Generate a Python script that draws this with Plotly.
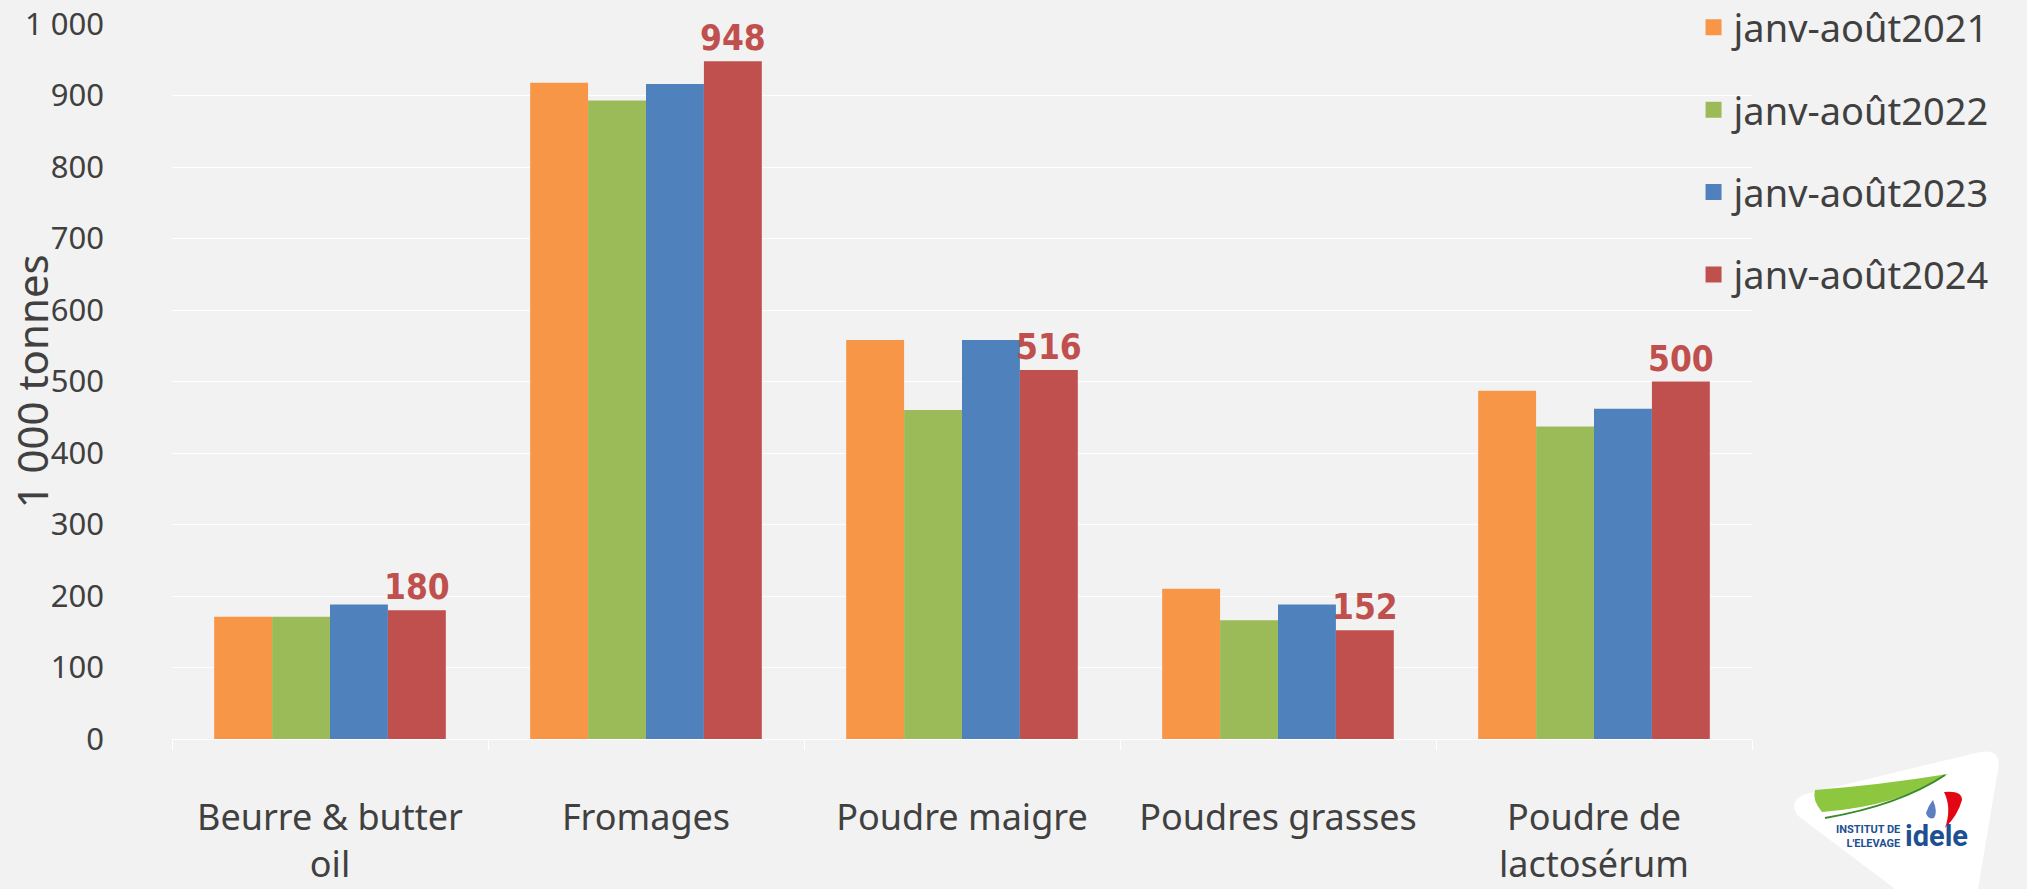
import plotly.graph_objects as go

categories = ["Beurre & butter<br>oil", "Fromages", "Poudre maigre", "Poudres grasses", "Poudre de<br>lactosérum"]
series_names = ["janv-août2021", "janv-août2022", "janv-août2023", "janv-août2024"]
v2021 = [171, 918, 558, 210, 487]
v2022 = [171, 893, 460, 166, 437]
v2023 = [188, 916, 558, 188, 462]
v2024 = [180, 948, 516, 152, 500]
colors = ["#F79646", "#9BBB59", "#4F81BD", "#C0504D"]
y_ticks = [0, 100, 200, 300, 400, 500, 600, 700, 800, 900, 1000]

W, H = 2027, 889
L, R, T, B = 172, 275, 24, 150
FONT = "Noto Sans, Open Sans, DejaVu Sans, sans-serif"
NARROW = "Liberation Sans Narrow, DejaVu Sans Condensed, Roboto Condensed, Roboto, sans-serif"
TXT = "#404040"

fig = go.Figure()
all_vals = [v2021, v2022, v2023, v2024]
for i, (name, vals) in enumerate(zip(series_names, all_vals)):
    is_last = i == len(series_names) - 1
    fig.add_trace(go.Bar(
        x=categories, y=vals, name=name, showlegend=False,
        marker=dict(color=colors[i], line=dict(width=0)),
        text=[str(v) for v in vals] if is_last else None,
        textposition="outside" if is_last else None,
        constraintext="none",
        textfont=dict(family=NARROW, size=35, color="#C0504D", weight="bold"),
        cliponaxis=False,
    ))
# legend entries with larger square swatches
for i, name in enumerate(series_names):
    fig.add_trace(go.Scatter(
        x=[None], y=[None], mode="markers", name=name, legendgroup=name,
        marker=dict(symbol="square", size=20, color=colors[i]),
    ))

pw = W - L - R
ph = H - T - B
def px(x):
    return (x - L) / pw
def py(y):
    return (H - B - y) / ph

# Logo (approximation)
logo_shapes = [
    dict(type="path", xref="paper", yref="paper",
         path=f"M {px(1797)},{py(815)} Q {px(1788)},{py(800)} {px(1806)},{py(794)} "
              f"L {px(1980)},{py(752)} Q {px(2002)},{py(748)} {px(1998)},{py(770)} "
              f"L {px(1978)},{py(889)} L {px(1895)},{py(889)} Z",
         fillcolor="white", line=dict(width=0), layer="above"),
    dict(type="path", xref="paper", yref="paper",
         path=f"M {px(1815)},{py(790)} Q {px(1880)},{py(785)} {px(1948)},{py(774)} "
              f"Q {px(1900)},{py(806)} {px(1822)},{py(812)} Q {px(1812)},{py(800)} {px(1815)},{py(790)} Z",
         fillcolor="#8DC63F", line=dict(width=0), layer="above"),
    dict(type="path", xref="paper", yref="paper",
         path=f"M {px(1825)},{py(818)} Q {px(1900)},{py(805)} {px(1945)},{py(775)}",
         line=dict(color="#3A8A2E", width=2), layer="above"),
    dict(type="path", xref="paper", yref="paper",
         path=f"M {px(1944)},{py(792)} Q {px(1962)},{py(790)} {px(1962)},{py(800)} "
              f"Q {px(1958)},{py(815)} {px(1945)},{py(828)} Q {px(1952)},{py(808)} {px(1944)},{py(792)} Z",
         fillcolor="#E30613", line=dict(width=0), layer="above"),
    dict(type="path", xref="paper", yref="paper",
         path=f"M {px(1933)},{py(800)} Q {px(1938)},{py(812)} {px(1934)},{py(818)} "
              f"Q {px(1928)},{py(820)} {px(1926)},{py(813)} Q {px(1928)},{py(806)} {px(1933)},{py(800)} Z",
         fillcolor="#5B7FC0", line=dict(width=0), layer="above"),
]

annotations = [
    dict(text="1 000 tonnes", xref="paper", yref="paper", x=px(31), y=0.5,
         textangle=-90, showarrow=False, xanchor="center", yanchor="middle",
         font=dict(family=FONT, size=42, color=TXT)),
    dict(text="INSTITUT DE<br>L'ELEVAGE", xref="paper", yref="paper", x=px(1902), y=py(836),
         showarrow=False, xanchor="right", yanchor="middle", align="right",
         font=dict(family="Roboto, sans-serif", size=11, color="#1D4F91", weight="bold")),
    dict(text="idele", xref="paper", yref="paper", x=px(1903), y=py(836),
         showarrow=False, xanchor="left", yanchor="middle",
         font=dict(family="Roboto, sans-serif", size=29, color="#1D4F91", weight="bold")),
]

fig.update_layout(
    width=W, height=H,
    margin=dict(l=L, r=R, t=T, b=B, pad=0, autoexpand=False),
    paper_bgcolor="#F2F2F2", plot_bgcolor="#F2F2F2",
    barmode="group", bargap=0.267, bargroupgap=0,
    separators=", ",
    font=dict(family=FONT, color=TXT, size=34),
    legend=dict(x=0.963, y=1.039, xanchor="left", yanchor="top",
                font=dict(family=FONT, size=38, color=TXT),
                bgcolor="rgba(0,0,0,0)", tracegroupgap=30,
                traceorder="grouped", itemwidth=30),
    shapes=logo_shapes,
    annotations=annotations,
)
fig.update_xaxes(
    showgrid=False, showline=False, zeroline=False,
    ticks="outside", tickson="boundaries", ticklen=10, tickcolor="#FFFFFF", tickwidth=1,
    ticklabelstandoff=54,
    tickfont=dict(family=FONT, size=36, color=TXT),
)
fig.update_yaxes(
    range=[0, 1000], tickvals=y_ticks, tickformat=",d",
    showgrid=True, gridcolor="#FFFFFF", gridwidth=1,
    zeroline=True, zerolinecolor="#FFFFFF", zerolinewidth=1,
    showline=False, ticks="", ticklabelstandoff=67,
    tickfont=dict(family=FONT, size=31, color=TXT),
)

fig.write_html("out.html", config={"displayModeBar": False},
               post_script="document.body.style.margin='0';document.body.style.overflow='hidden';")
